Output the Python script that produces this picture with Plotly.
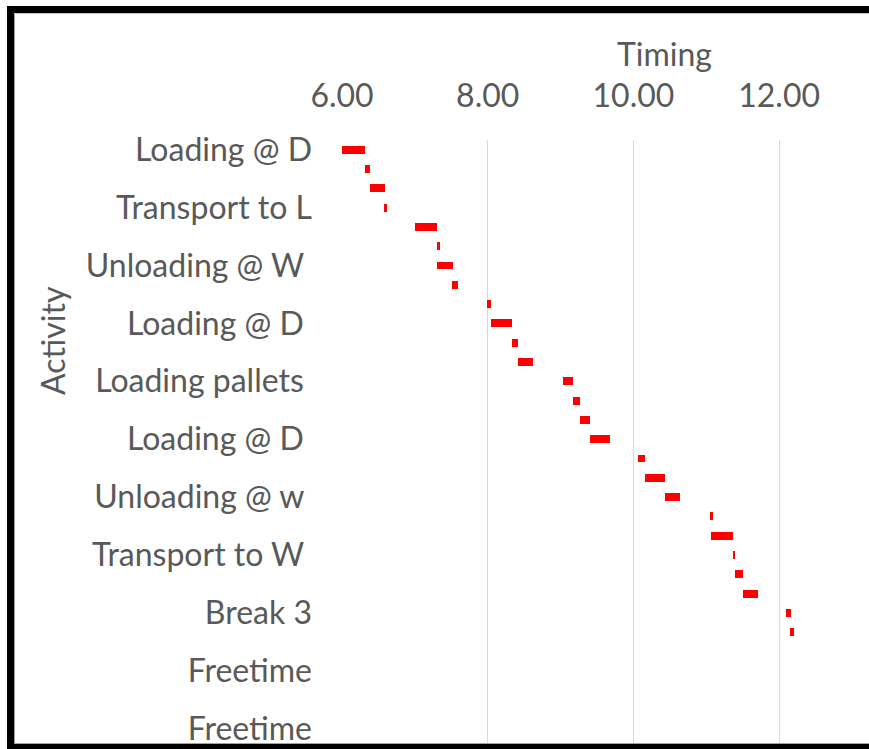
import plotly.graph_objects as go

# ---- data ----
tick_labels = ["Loading @ D", "Transport to L", "Unloading @ W\u00a0", "Loading @ D\u00a0",
               "Loading pallets\u00a0", "Loading @ D\u00a0", "Unloading @ w\u00a0",
               "Transport to W\u00a0", "Break 3", "Freetime", "Freetime"]
tick_rows = [0, 3, 6, 9, 12, 15, 18, 21, 24, 27, 30]

bar_rows = list(range(26))
bar_start = [6.00, 6.31, 6.38, 6.58, 7.00, 7.30, 7.31, 7.51, 7.99, 8.04, 8.34, 8.41, 9.03,
             9.17, 9.27, 9.41, 10.06, 10.16, 10.44, 11.05, 11.06, 11.37, 11.40, 11.50,
             12.09, 12.15]
bar_duration = [0.31, 0.07, 0.21, 0.04, 0.31, 0.05, 0.21, 0.08, 0.05, 0.30, 0.07, 0.21, 0.14,
                0.10, 0.14, 0.27, 0.10, 0.28, 0.20, 0.04, 0.31, 0.03, 0.11, 0.21,
                0.08, 0.05]
x_ticks = [6, 8, 10, 12]

W, H = 869, 749
L, R, T, B = 342, 0, 140, 0
FONT = "Lato, 'Open Sans', sans-serif"
GREY = "#595959"
FS = 32

fig = go.Figure()
fig.add_trace(go.Bar(
    orientation="h", y=bar_rows, x=bar_duration, base=bar_start,
    width=0.41, marker=dict(color="#FF0000", line=dict(width=0)),
    hoverinfo="skip", showlegend=False))

fig.update_layout(
    width=W, height=H,
    margin=dict(l=L, r=R, t=T, b=B, pad=0),
    paper_bgcolor="white", plot_bgcolor="white",
    font=dict(family=FONT, size=FS, color=GREY),
    bargap=0,
    xaxis=dict(side="top", range=[6, 6 + (W - L) / 72.85], tickvals=x_ticks,
               tickformat=".2f", showgrid=True, gridcolor="#d9d9d9", gridwidth=1.3,
               zeroline=False, showline=False, ticks="", ticklabelstandoff=26,
               tickfont=dict(family=FONT, size=FS, color=GREY)),
    yaxis=dict(range=[31.05, -0.5], tickvals=tick_rows, ticktext=tick_labels,
               showgrid=False, zeroline=False, showline=False, ticks="",
               ticklabelstandoff=29,
               tickfont=dict(family=FONT, size=FS, color=GREY)),
)

def px_x(p):
    return (p - L) / (W - L - R)

def px_y(p):
    return (H - B - p) / (H - T - B)

fig.add_annotation(text="Timing", x=px_x(664), y=px_y(54), xref="paper", yref="paper",
                   showarrow=False, xanchor="center", yanchor="middle",
                   font=dict(family=FONT, size=FS, color=GREY))
fig.add_annotation(text="Activity", x=px_x(52), y=px_y(341), xref="paper", yref="paper",
                   showarrow=False, xanchor="center", yanchor="middle", textangle=-90,
                   font=dict(family=FONT, size=FS, color=GREY))

# black screenshot frame
frame = [
    (7, 6, 14, 749, "black"),
    (14, 13, 15, 744, "#a0a0a0"),
    (7, 6, 869, 13, "black"),
    (14, 13, 869, 14, "#c8c8c8"),
    (14, 743, 869, 744, "#a0a0a0"),
    (7, 744, 869, 749, "black"),
]
for x0, y0, x1, y1, c in frame:
    fig.add_shape(type="rect", xref="paper", yref="paper",
                  x0=px_x(x0), x1=px_x(x1), y0=px_y(y1), y1=px_y(y0),
                  fillcolor=c, line=dict(width=0), layer="above")

fig.write_html("out.html", config={"displayModeBar": False},
               post_script="document.body.style.margin='0';document.body.style.overflow='hidden';")
